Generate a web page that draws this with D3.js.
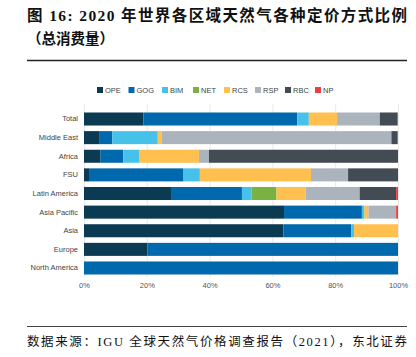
<!DOCTYPE html>
<html><head><meta charset="utf-8">
<script src="https://cdn.jsdelivr.net/npm/d3@7"></script>
<style>body{margin:0;background:#fff}svg{display:block}</style>
</head><body>
<svg id="c" width="416" height="357"></svg>
<script>
const regions = ["Total","Middle East","Africa","FSU","Latin America","Asia Pacific","Asia","Europe","North America"];
const series = ["OPE","GOG","BIM","NET","RCS","RSP","RBC","NP"];
const colors = ["#0b3a53","#0069ad","#46c1ea","#7ab143","#ffc04f","#abb4bd","#434b55","#ef3d3f"];
const OPE = [18.9, 4.8, 5.3, 1.6, 27.7, 63.7, 63.5, 20.2, 0];
const GOG = [49.0, 4.2, 7.2, 30.1, 22.6, 24.8, 21.6, 79.8, 100];
const BIM = [3.7, 14.5, 5.2, 5.2, 3.1, 0.8, 0.9, 0, 0];
const NET = [0, 0, 0, 0, 7.9, 0, 0, 0, 0];
const RCS = [9.0, 1.3, 18.9, 35.4, 9.3, 1.3, 14.0, 0, 0];
const RSP = [13.6, 73.1, 3.2, 11.8, 17.2, 8.8, 0, 0, 0];
const RBC = [5.7, 2.0, 60.2, 15.9, 11.6, 0, 0, 0, 0];
const NP  = [0, 0, 0, 0, 0.6, 0.6, 0, 0, 0];
const xTicks = [0,20,40,60,80,100];
const titleLine1 = "图 16: 2020 年世界各区域天然气各种定价方式比例";
const titleLine2 = "（总消费量）";
const source = "数据来源：IGU 全球天然气价格调查报告（2021），东北证券";

const vals = {OPE,GOG,BIM,NET,RCS,RSP,RBC,NP};
const table = regions.map((r,i)=>{const o={region:r}; series.forEach(s=>o[s]=vals[s][i]); return o;});
const stack = d3.stack().keys(series)(table);

const svg = d3.select("#c");
const serif = "'Liberation Serif','Noto Sans CJK SC',serif";
const sans = "'Liberation Sans','Noto Sans',sans-serif";

svg.append("text").attr("x",27).attr("y",21).attr("font-family",serif).attr("font-weight","bold")
  .attr("font-size",15.5).attr("fill","#111").attr("textLength",380).attr("lengthAdjust","spacing").text(titleLine1);
svg.append("text").attr("x",27).attr("y",44).attr("font-family",serif).attr("font-weight","bold")
  .attr("font-size",14.5).attr("fill","#111").text(titleLine2);
svg.append("line").attr("x1",27).attr("x2",407).attr("y1",60.5).attr("y2",60.5).attr("stroke","#222").attr("stroke-width",1.3);

const x = d3.scaleLinear().domain([0,100]).range([84,398]);
const y = d3.scaleBand().domain(regions).range([109.7,277.3]).paddingInner(0.3).paddingOuter(0.15);
const color = d3.scaleOrdinal().domain(series).range(colors);

// grid
svg.append("g").selectAll("line").data(xTicks).join("line")
  .attr("x1",d=>x(d)+0.5).attr("x2",d=>x(d)+0.5).attr("y1",104).attr("y2",277)
  .attr("stroke","#e3e3e3").attr("stroke-width",0.8);

// bars
svg.append("g").selectAll("g").data(stack).join("g").attr("fill",d=>color(d.key))
  .selectAll("rect").data(d=>d).join("rect")
  .attr("x",d=>x(d[0])).attr("width",d=>Math.max(0,x(d[1])-x(d[0])))
  .attr("y",d=>y(d.data.region)).attr("height",y.bandwidth());

// x axis
const xAxis = d3.axisBottom(x).tickValues(xTicks).tickFormat(d=>d+"%").tickSize(0).tickPadding(6);
const gx = svg.append("g").attr("transform","translate(0,277)").call(xAxis);
gx.select(".domain").remove();
gx.selectAll("text").attr("font-family",sans).attr("font-size",7.5).attr("fill","#555");

// y axis
const yAxis = d3.axisLeft(y).tickSize(0).tickPadding(6);
const gy = svg.append("g").attr("transform","translate(84,0)").call(yAxis);
gy.select(".domain").remove();
gy.selectAll("text").attr("font-family",sans).attr("font-size",7.5).attr("fill","#444");

// legend
const legX = [97,128.5,162,193,224,255,285,315];
const leg = svg.append("g").selectAll("g").data(series).join("g")
  .attr("transform",(d,i)=>`translate(${legX[i]},90)`);
leg.append("rect").attr("x",0).attr("y",-3).attr("width",6).attr("height",6).attr("fill",d=>color(d));
leg.append("text").attr("x",8).attr("y",2.6).attr("font-family",sans).attr("font-size",7.5).attr("fill","#444").text(d=>d);

// footer
svg.append("line").attr("x1",27).attr("x2",407).attr("y1",326.5).attr("y2",326.5).attr("stroke","#444").attr("stroke-width",1);
svg.append("text").attr("x",27).attr("y",346).attr("font-family",serif)
  .attr("font-size",12.5).attr("fill","#111").attr("textLength",380).attr("lengthAdjust","spacing").text(source);
</script>
</body></html>
